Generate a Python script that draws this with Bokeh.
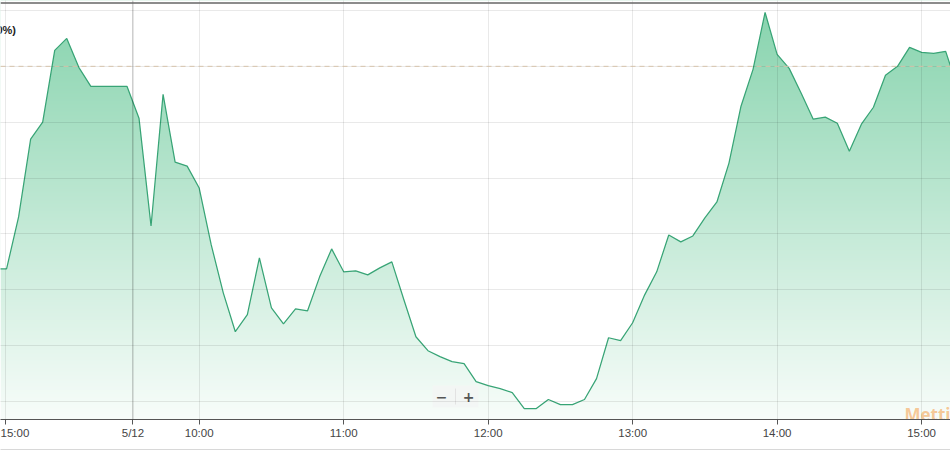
import numpy as np
from bokeh.plotting import figure
from bokeh.models import Range1d, FixedTicker, CustomJSTickFormatter, Span, LinearAxis
from bokeh.core.properties import value
from bokeh.embed import file_html
from bokeh.resources import INLINE

# ---- data (5-minute points, minutes relative to 10:00 on a gap-free session axis) ----
minutes = [-85, -80, -75, -70, -65, -60, -55, -50, -45, -40, -35, -30, -25, -20, -15, -10, -5,
           0, 5, 10, 15, 20, 25, 30, 35, 40, 45, 50, 55, 60, 65, 70, 75, 80, 85, 90, 95,
           100, 105, 110, 115, 120, 125, 130, 135, 140, 145, 150, 155, 160, 165, 170, 175,
           180, 185, 190, 195, 200, 205, 210, 215, 220, 225, 230, 235, 240, 245, 250, 255,
           260, 265, 270, 275, 280, 285, 290, 295, 300, 305, 310, 315]
change_pct = [-1.813, -1.813, -1.348, -0.652, -0.500, 0.143, 0.250, -0.009, -0.179, -0.179,
              -0.179, -0.179, -0.464, -1.429, -0.250, -0.857, -0.893,
              -1.089, -1.598, -2.027, -2.375, -2.223, -1.714, -2.161, -2.304, -2.170, -2.188,
              -1.884, -1.634, -1.839, -1.830, -1.866, -1.804, -1.750, -2.089, -2.420, -2.545,
              -2.598, -2.643, -2.661, -2.821, -2.857, -2.884, -2.920, -3.063, -3.063, -2.982,
              -3.027, -3.027, -2.982, -2.795, -2.429, -2.455, -2.295, -2.045, -1.839, -1.509,
              -1.571, -1.518, -1.357, -1.214, -0.866, -0.357, -0.027, 0.482, 0.107, -0.018,
              -0.241, -0.473, -0.455, -0.509, -0.759, -0.518, -0.366, -0.080, 0.000, 0.170,
              0.125, 0.116, 0.134, -0.196]
tick_minutes = [-80.5, -27.5, 0, 60, 120, 180, 240, 300]
tick_labels = ["15:00", "5/12", "10:00", "11:00", "12:00", "13:00", "14:00", "15:00"]
grid_levels = [0.5, 0.0, -0.5, -1.0, -1.5, -2.0, -2.5, -3.0]
prev_close_pct = 0.0
day_break = -27.5

# helpers: pixel position in the 950x450 picture -> data coordinates
def mx(px):
    return (px - 198.7) / 2.408

def vy(py):
    return (66.0 - py) / 112.0

# ---- view ----
X0, X1 = mx(0), mx(950)
Y0, Y1 = vy(420), vy(0)

p = figure(width=950, height=450, output_backend="svg", toolbar_location=None,
           x_range=Range1d(X0, X1), y_range=Range1d(Y0, Y1), y_axis_location=None,
           min_border_top=0, min_border_left=0, min_border_right=0, min_border_bottom=30,
           background_fill_color="white", border_fill_color="white")
p.outline_line_color = None

# gradient fill below the line: vertical gradient image masked with white above the line
n = 420
t = np.linspace(0.0, 1.0, n)[:, None]
top_c = np.array([134, 211, 173], dtype=float)
bot_c = np.array([248, 253, 250], dtype=float)
rgb = bot_c + (top_c - bot_c) * t
img = np.zeros((n, 1), dtype=np.uint32)
view = img.view(dtype=np.uint8).reshape((n, 1, 4))
view[:, 0, 0:3] = rgb.astype(np.uint8)
view[:, 0, 3] = 255
p.image_rgba(image=[img], x=X0, y=Y0, dw=X1 - X0, dh=Y1 - Y0)
p.varea(x=minutes, y1=change_pct, y2=Y1, fill_color="white", fill_alpha=1.0)

p.line(minutes, change_pct, line_color="#38a476", line_width=1.25)

# grids drawn over the fill
p.xgrid.ticker = FixedTicker(ticks=tick_minutes)
p.ygrid.ticker = FixedTicker(ticks=grid_levels)
for g in (p.xgrid, p.ygrid):
    g.level = "guide"
    g.grid_line_color = "black"
    g.grid_line_alpha = 0.085
    g.grid_line_width = 1

p.add_layout(Span(location=day_break, dimension="height", line_color="black",
                  line_alpha=0.22, line_width=1))
p.add_layout(Span(location=prev_close_pct, dimension="width", line_color="#d6c3ab",
                  line_dash="5 4", line_width=1))
# top border of the panel
p.add_layout(Span(location=vy(2.5), dimension="width", line_color="#666666",
                  line_width=1.5))

p.text(x=[mx(15.5)], y=[vy(30)], text=["(0%)"], text_font=value("Liberation Sans"),
       text_font_style="bold", text_font_size="11px", text_align="right",
       text_baseline="middle", text_color="#222222")

# zoom buttons
p.rect(x=[mx(455)], y=[vy(397)], width=46 / 2.408, height=22 / 112.0,
       fill_color="#f3f5f4", fill_alpha=0.9, line_color=None)
p.segment(x0=[mx(455)], y0=[vy(389)], x1=[mx(455)], y1=[vy(405)],
          line_color="#e2e2e2", line_width=1)
p.text(x=[mx(441), mx(468)], y=[vy(397), vy(397)], text=["\u2212", "+"],
       text_font=value("DejaVu Sans"), text_font_style="bold", text_font_size="14px",
       text_align="center", text_baseline="middle", text_color="#555555")

# watermark
p.text(x=[mx(904)], y=[vy(415)], text=["Mettis"], text_font=value("Open Sans"),
       text_font_style="bold", text_font_size="17px", text_align="left",
       text_baseline="alphabetic", text_color="#f5c28b", text_alpha=0.9)

ax = p.xaxis[0]
ax.ticker = FixedTicker(ticks=tick_minutes)
ax.formatter = CustomJSTickFormatter(args=dict(t=tick_minutes, l=tick_labels), code="""
    for (let i = 0; i < t.length; i++) { if (Math.abs(t[i] - tick) < 1e-6) return l[i]; }
    return '';
""")
ax.axis_line_color = "#555555"
ax.axis_line_width = 1.2
ax.major_tick_line_color = "#555555"
ax.major_tick_out = 5
ax.major_tick_in = 0
ax.minor_tick_line_color = None
ax.major_label_standoff = 2
ax.major_label_text_font = "Liberation Sans"
ax.major_label_text_font_size = "11.5px"
ax.major_label_text_color = "#444444"
ax.axis_label = " "
ax.axis_label_text_font_size = "1px"
ax.axis_label_standoff = 5

# bottom border of the panel (an axis showing only its line)
edge = LinearAxis(ticker=FixedTicker(ticks=[0]), axis_line_color="#666666",
                  axis_line_width=1.5, major_tick_line_color=None, major_tick_out=0,
                  major_tick_in=0, minor_tick_line_color=None, major_label_standoff=0,
                  major_label_text_font_size="1px", major_label_text_alpha=0.0)
p.add_layout(edge, "below")

open("out.html", "w").write(file_html(p, INLINE))
